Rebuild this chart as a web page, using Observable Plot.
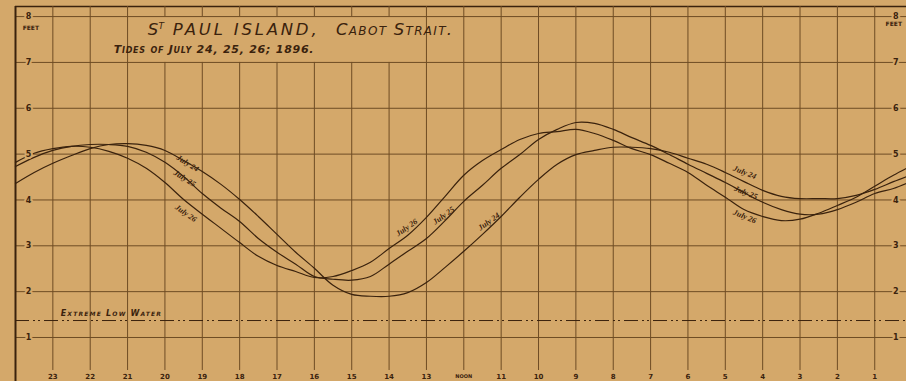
<!DOCTYPE html>
<html><head><meta charset="utf-8">
<script src="https://cdn.jsdelivr.net/npm/d3@7"></script>
<script src="https://cdn.jsdelivr.net/npm/@observablehq/plot@0.6"></script>
<style>
html,body{margin:0;padding:0;background:#d4a86a;overflow:hidden}
</style></head><body><div id="chart"></div>
<script>
const hours = [24,23.5,23,22.5,22,21.5,21,20.5,20,19.5,19,18.5,18,17.5,17,16.5,16,15.5,15,14.5,14,13.5,13,12.5,12,11.5,11,10.5,10,9.5,9,8.5,8,7.5,7,6.5,6,5.5,5,4.5,4,3.5,3,2.5,2,1.5,1,0.5,0.15];
const july24 = [4.36,4.60,4.80,4.97,5.12,5.21,5.23,5.19,5.08,4.86,4.62,4.34,4.01,3.64,3.25,2.86,2.51,2.14,1.94,1.90,1.90,1.98,2.20,2.53,2.88,3.25,3.64,4.06,4.45,4.78,4.99,5.08,5.15,5.15,5.12,5.04,4.91,4.78,4.60,4.40,4.21,4.08,4.03,4.03,4.03,4.10,4.23,4.40,4.51];
const july25 = [4.73,4.93,5.08,5.17,5.21,5.21,5.17,5.04,4.82,4.51,4.14,3.82,3.53,3.16,2.86,2.60,2.33,2.27,2.25,2.33,2.60,2.88,3.16,3.55,3.97,4.32,4.69,4.99,5.32,5.54,5.69,5.67,5.54,5.36,5.19,4.99,4.78,4.58,4.38,4.16,3.95,3.79,3.69,3.69,3.79,3.95,4.14,4.25,4.36];
const july26 = [4.82,5.02,5.12,5.17,5.15,5.06,4.91,4.69,4.38,4.01,3.69,3.38,3.07,2.77,2.57,2.44,2.31,2.33,2.46,2.64,2.94,3.23,3.62,4.08,4.54,4.86,5.10,5.32,5.45,5.49,5.54,5.45,5.30,5.12,4.99,4.80,4.60,4.32,4.06,3.79,3.64,3.55,3.58,3.71,3.88,4.06,4.30,4.54,4.69];
const seriesNames = ["July 24","July 25","July 26"];
const gridHours = [23,22,21,20,19,18,17,16,15,14,13,12,11,10,9,8,7,6,5,4,3,2,1];
const hourLabels = ["23","22","21","20","19","18","17","16","15","14","13","NOON","11","10","9","8","7","6","5","4","3","2","1"];
const boxHours = [20,19,18,17,16,15,14];
const feetLines = [1,2,3,4,5,6,7,8];
const feetLabels = ["1","2","3","4","5","6","7","8"];
const extremeLowWater = 1.37;
const lowWaterLabel = "Extreme Low Water";
const curveLabelText = ["July 24","July 25","July 26","July 26","July 25","July 24","July 24","July 25","July 26"];
const curveLabelHour = [19.39,19.47,19.44,13.53,12.54,11.33,4.48,4.45,4.48];
const curveLabelFeet = [4.80,4.47,3.71,3.40,3.66,3.53,4.60,4.16,3.64];
const curveLabelAngle = [32,32,35,-35,-36,-36,22,22,22];
const titleSaint = "S", titleSaintSup = "T", titleMain = "PAUL ISLAND,", titleRest = "Cabot Strait.";
const subtitle = "Tides of July 24, 25, 26; 1896.";
const unitLabel = "FEET";

const bg = "#d4a86a", ink = "#3a220d", grid = "#6e4c24";
const data = [july24, july25, july26].flatMap((arr, i) => arr.map((v, j) => ({series: seriesNames[i], hour: hours[j], feet: v})));
const curveLabels = curveLabelText.map((t, i) => ({t, h: curveLabelHour[i], f: curveLabelFeet[i], r: curveLabelAngle[i]}));
const ticks = hourLabels.map((t, i) => ({t, h: gridHours[i]}));
const fticks = feetLabels.map((t, i) => ({t, f: feetLines[i]}));
const xL = 23.65, xR = 0.44, yTop = 8.22, xEnd = 0.15;

const chart = Plot.plot({
  width: 906, height: 381,
  marginLeft: 15, marginRight: 0, marginTop: 6, marginBottom: 0,
  x: {domain: [24, xEnd], axis: null},
  y: {domain: [0.04, yTop], axis: null},
  style: {background: bg, color: ink},
  marks: [
    Plot.ruleY(feetLines, {y: d => d, x1: 24, x2: xEnd, stroke: grid, strokeWidth: 1}),
    Plot.ruleY([yTop], {y: d => d, x1: 24, x2: xEnd, stroke: ink, strokeWidth: 1.5}),
    Plot.ruleX(gridHours.filter(h => !boxHours.includes(h)), {x: d => d, y1: 0.28, y2: yTop, stroke: grid, strokeWidth: 1}),
    Plot.ruleX(boxHours, {x: d => d, y1: 0.28, y2: 7, stroke: grid, strokeWidth: 1}),
    Plot.ruleX(boxHours, {x: d => d, y1: 8, y2: yTop, stroke: grid, strokeWidth: 1}),
    Plot.ruleX([24], {x: d => d, y1: 0.04, y2: yTop, stroke: ink, strokeWidth: 2}),
    Plot.ruleY([extremeLowWater], {y: d => d, x1: 24, x2: xEnd, stroke: ink, strokeWidth: 1, strokeDasharray: "14,4,2,3,2,4"}),
    Plot.line(data, {x: "hour", y: "feet", z: "series", stroke: ink, strokeWidth: 1.2, curve: "catmull-rom"}),
    Plot.text(curveLabels, {x: "h", y: "f", text: "t", rotate: "r", fill: ink, fontSize: 8, fontStyle: "italic", fontWeight: "bold", fontFamily: "Liberation Serif"}),
    Plot.text(fticks, {x: xL, y: "f", text: "t", fill: ink, fontSize: 8, fontWeight: "bold", fontFamily: "DejaVu Sans", stroke: bg, strokeWidth: 4, paintOrder: "stroke"}),
    Plot.text(fticks, {x: xR, y: "f", text: "t", fill: ink, fontSize: 8, fontWeight: "bold", fontFamily: "DejaVu Sans", stroke: bg, strokeWidth: 4, paintOrder: "stroke"}),
    Plot.text([unitLabel], {x: 23.59, y: 7.74, text: d => d, fill: ink, fontSize: 6, fontWeight: "bold", fontFamily: "DejaVu Sans"}),
    Plot.text([unitLabel], {x: 0.49, y: 7.83, text: d => d, fill: ink, fontSize: 6, fontWeight: "bold", fontFamily: "DejaVu Sans"}),
    Plot.text(ticks, {x: "h", y: 0.15, text: "t", fill: ink, fontSize: d => d.t === "NOON" ? 5 : 7, fontWeight: "bold", fontFamily: "DejaVu Sans", stroke: bg, strokeWidth: 3, paintOrder: "stroke"}),
    Plot.text([lowWaterLabel], {x: 22.79, y: 1.53, text: d => d, textAnchor: "start", fill: ink, fontSize: 8, fontStyle: "italic", fontWeight: "bold", fontVariant: "small-caps", fontFamily: "DejaVu Sans"}),
    Plot.text([titleSaint], {x: 20.46, y: 7.59, text: d => d, textAnchor: "start", lineAnchor: "bottom", fill: ink, fontSize: 16.5, fontStyle: "italic", fontFamily: "DejaVu Sans"}),
    Plot.text([titleSaintSup], {x: 20.17, y: 7.72, text: d => d, textAnchor: "start", lineAnchor: "bottom", fill: ink, fontSize: 9, fontStyle: "italic", fontFamily: "DejaVu Sans"}),
    Plot.text([titleMain], {x: 19.79, y: 7.59, text: d => d, textAnchor: "start", lineAnchor: "bottom", fill: ink, fontSize: 16.5, fontStyle: "italic", fontFamily: "DejaVu Sans"}),
    Plot.text([titleRest], {x: 15.42, y: 7.59, text: d => d, textAnchor: "start", lineAnchor: "bottom", fill: ink, fontSize: 16.5, fontStyle: "italic", fontVariant: "small-caps", fontFamily: "DejaVu Sans"}),
    Plot.text([subtitle], {x: 21.37, y: 7.20, text: d => d, textAnchor: "start", lineAnchor: "bottom", fill: ink, fontSize: 11, fontStyle: "italic", fontWeight: "bold", fontVariant: "small-caps", fontFamily: "DejaVu Sans"})
  ]
});
const spacing = new Map([[titleMain, "2.8px"], [titleRest, "1.3px"], [subtitle, "0.75px"], [lowWaterLabel, "1.2px"]]);
d3.select(chart).selectAll("text").each(function () {
  const s = spacing.get(this.textContent);
  if (s) this.style.letterSpacing = s;
});
document.getElementById("chart").appendChild(chart);
</script></body></html>
